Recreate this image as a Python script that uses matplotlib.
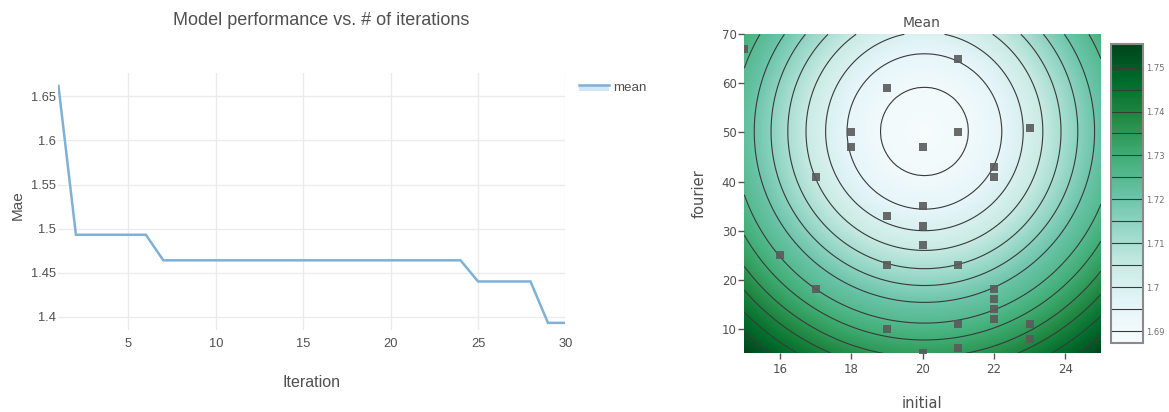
import numpy as np
import matplotlib
matplotlib.use('Agg')
import matplotlib.pyplot as plt
from matplotlib.lines import Line2D
from matplotlib.patches import Rectangle

# ---- left panel: best Mae per iteration ----
iterations = list(range(1, 31))
mae_mean = [1.662,
            1.493, 1.493, 1.493, 1.493, 1.493,
            1.464, 1.464, 1.464, 1.464, 1.464, 1.464, 1.464, 1.464, 1.464,
            1.464, 1.464, 1.464, 1.464, 1.464, 1.464, 1.464, 1.464, 1.464,
            1.440, 1.440, 1.440, 1.440,
            1.393, 1.393]
x_ticks_left = [5, 10, 15, 20, 25, 30]
y_ticks_left = [1.4, 1.45, 1.5, 1.55, 1.6, 1.65]
y_ticklabels_left = ['1.4', '1.45', '1.5', '1.55', '1.6', '1.65']

# ---- right panel: sampled points ----
initial_pts = [15, 21, 19, 18, 18, 20, 21, 23, 22, 22, 17, 20, 19, 20, 20,
               16, 19, 21, 17, 22, 22, 22, 22, 21, 23, 19, 23, 21, 20]
fourier_pts = [67, 65, 59, 50, 47, 47, 50, 51, 43, 41, 41, 35, 33, 31, 27,
               25, 23, 23, 18, 18, 16, 14, 12, 11, 11, 10, 8, 6, 5]

# mean surface: elliptic bowl
center_initial = 20.05
center_fourier = 50.2
fourier_per_initial = 7.3
ring_radius = [0.0, 1.235, 2.17, 2.77, 3.32, 3.83, 4.3, 4.77, 5.35, 5.82,
               6.3, 6.72, 7.14, 7.55, 7.95, 9.0]
ring_value = [1.6874, 1.69, 1.695, 1.70, 1.705, 1.71, 1.715, 1.72, 1.725, 1.73,
              1.735, 1.74, 1.745, 1.75, 1.755, 1.767]
contour_levels = [1.69, 1.695, 1.70, 1.705, 1.71, 1.715, 1.72, 1.725, 1.73,
                  1.735, 1.74, 1.745, 1.75]
cbar_ticks = [1.69, 1.70, 1.71, 1.72, 1.73, 1.74, 1.75]
cbar_ticklabels = ['1.69', '1.7', '1.71', '1.72', '1.73', '1.74', '1.75']
z_min, z_max = 1.6872, 1.7553

fig = plt.figure(figsize=(11.69, 4.12), dpi=100)

# ---------------- left plot ----------------
ax1 = fig.add_axes([0.05, 0.199, 0.4337, 0.6238])
ax1.plot(iterations, mae_mean, color='#7fb0d6', lw=1.8, solid_joinstyle='miter')
ax1.set_xlim(1, 30)
ax1.set_ylim(1.3849, 1.6766)
ax1.set_xticks(x_ticks_left)
ax1.set_yticks(y_ticks_left)
ax1.set_yticklabels(y_ticklabels_left)
ax1.grid(True, color='#ebebeb', lw=1)
ax1.set_axisbelow(True)
for s in ax1.spines.values():
    s.set_visible(False)
ax1.tick_params(axis='both', length=0, labelsize=9.3, labelcolor='#505050')
ax1.tick_params(axis='x', pad=6)
ax1.tick_params(axis='y', pad=1.5)
for lab in ax1.get_xticklabels() + ax1.get_yticklabels():
    lab.set_family('Liberation Sans')

fig.text(0.2746, 0.951, 'Model performance vs. # of iterations', ha='center', va='center',
         fontsize=13, color='#505050', family='Liberation Sans')
fig.text(0.2665, 0.0728, 'Iteration', ha='center', va='center',
         fontsize=11.5, color='#505050', family='Liberation Sans')
fig.text(0.0154, 0.5024, 'Mae', ha='center', va='center', rotation=90,
         fontsize=11, color='#505050', family='Liberation Sans')

# legend drawn by hand (line with band under it)
fig.add_artist(Rectangle((579 / 1169, 1 - 90.7 / 412), 30 / 1169, 6 / 412,
                         transform=fig.transFigure, facecolor='#d4e5f3', edgecolor='none'))
fig.add_artist(Line2D([579 / 1169, 609 / 1169], [1 - 84.7 / 412] * 2,
                      transform=fig.transFigure, color='#7fb0d6', lw=1.8))
fig.text(613 / 1169, 1 - 88 / 412, 'mean', ha='left', va='center',
         fontsize=9.6, color='#505050', family='Liberation Sans')

# ---------------- right plot ----------------
ax2 = fig.add_axes([0.6367, 0.1425, 0.3051, 0.7743])
gx = np.linspace(15, 25, 400)
gy = np.linspace(5, 70, 400)
GX, GY = np.meshgrid(gx, gy)
R = np.hypot(GX - center_initial, (GY - center_fourier) / fourier_per_initial)
Z = np.interp(R, ring_radius, ring_value)

im = ax2.imshow(Z, extent=[15, 25, 5, 70], origin='lower', aspect='auto',
                cmap='BuGn', vmin=z_min, vmax=z_max, interpolation='bilinear')
cs = ax2.contour(GX, GY, Z, levels=contour_levels, colors='#3a3a3a', linewidths=0.8)
ax2.scatter(initial_pts, fourier_pts, marker='s', s=28, color='#5a5a5a',
            alpha=0.9, linewidths=0, zorder=3, clip_on=True)
ax2.set_xlim(15, 25)
ax2.set_ylim(5, 70)
ax2.set_xticks([16, 18, 20, 22, 24])
ax2.set_yticks([10, 20, 30, 40, 50, 60, 70])
for s in ax2.spines.values():
    s.set_visible(False)
ax2.tick_params(axis='both', length=4, width=1, color='#555555',
                labelsize=8.5, labelcolor='#505050')
ax2.tick_params(axis='x', pad=3)
ax2.tick_params(axis='y', pad=1.5)

fig.text(0.7887, 0.944, 'Mean', ha='center', va='center', fontsize=10, color='#505050')
fig.text(0.7887, 0.0218, 'initial', ha='center', va='center', fontsize=10.5, color='#505050')
fig.text(0.598, 0.529, 'fourier', ha='center', va='center', rotation=90,
         fontsize=10.5, color='#505050')

# colorbar
cax = fig.add_axes([0.9501, 0.1667, 0.0279, 0.7257])
cb = fig.colorbar(im, cax=cax)
cb.add_lines(cs)
cb.outline.set_edgecolor('#8a8a8a')
cb.outline.set_linewidth(1.5)
cb.set_ticks(cbar_ticks)
cb.set_ticklabels(cbar_ticklabels)
cax.tick_params(length=0, pad=2, labelsize=6, labelcolor='#707070')

fig.savefig('out.png', dpi=100)
